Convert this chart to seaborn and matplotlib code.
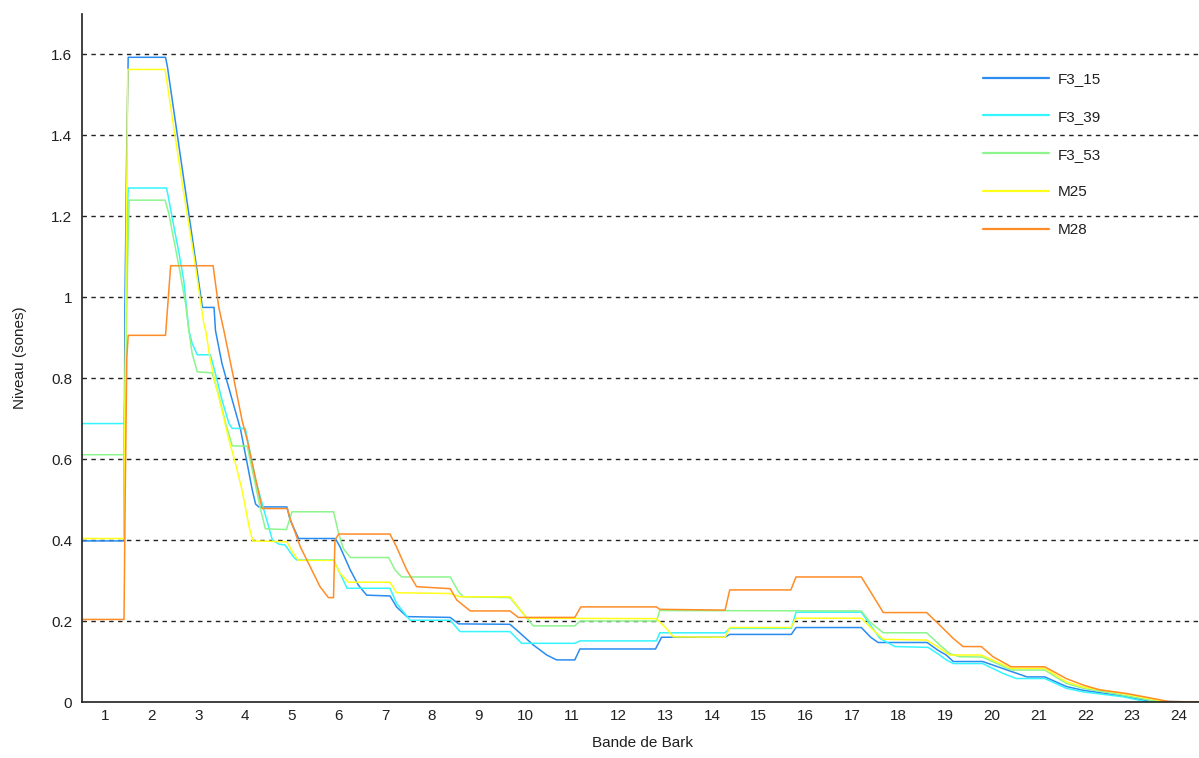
import matplotlib
matplotlib.use("Agg")
import matplotlib.pyplot as plt
import seaborn as sns
import pandas as pd
from matplotlib.lines import Line2D

# ---------------- data (vertices) ----------------
series_names = ["F3_15", "F3_39", "F3_53", "M25", "M28"]

f3_15_x = [0.5, 1.40, 1.42, 1.46, 1.49, 2.29, 2.33, 3.08, 3.11, 3.33, 3.36, 3.5, 3.72, 3.9, 4.04,
           4.15, 4.22, 4.29, 4.89, 4.96, 5.14, 5.93, 6.03, 6.25, 6.42, 6.6, 7.1, 7.24, 7.46, 8.39,
           8.57, 9.67, 9.85, 10.17, 10.46, 10.67, 11.06, 11.17, 12.79, 12.92, 14.28, 14.38, 15.7,
           15.8, 17.2, 17.4, 17.56, 18.61, 18.84, 19.02, 19.17, 19.8, 20.2, 20.75, 21.13, 21.6,
           21.95, 22.8, 23.35, 24.5]
f3_15_y = [0.398, 0.398, 0.98, 1.38, 1.593, 1.593, 1.57, 0.975, 0.975, 0.975, 0.918, 0.836, 0.746,
           0.672, 0.589, 0.523, 0.489, 0.482, 0.482, 0.45, 0.404, 0.404, 0.383, 0.326, 0.289, 0.264,
           0.262, 0.235, 0.211, 0.209, 0.193, 0.192, 0.174, 0.141, 0.116, 0.104, 0.104, 0.131, 0.131,
           0.160, 0.160, 0.167, 0.167, 0.184, 0.184, 0.16, 0.147, 0.147, 0.128, 0.116, 0.1, 0.1,
           0.084, 0.062, 0.062, 0.038, 0.029, 0.015, 0.002, 0.0]

f3_39_x = [0.5, 1.40, 1.43, 1.47, 1.49, 2.31, 2.35, 2.47, 2.58, 2.68, 2.79, 2.86, 2.97, 3.25, 3.36,
           3.5, 3.65, 3.72, 4.0, 4.08, 4.22, 4.4, 4.58, 4.72, 4.85, 5.03, 5.1, 5.89, 6.03, 6.18, 7.1,
           7.24, 7.53, 8.39, 8.6, 9.67, 9.92, 11.06, 11.17, 12.81, 12.88, 14.28, 14.38, 15.7, 15.8,
           17.2, 17.42, 17.6, 17.92, 18.63, 18.88, 19.02, 19.17, 19.8, 20.23, 20.52, 21.13, 21.59,
           21.95, 22.8, 23.3, 24.5]
f3_39_y = [0.688, 0.688, 0.80, 1.20, 1.27, 1.27, 1.248, 1.174, 1.108, 1.042, 0.918, 0.886, 0.858,
           0.858, 0.811, 0.746, 0.688, 0.676, 0.676, 0.63, 0.548, 0.474, 0.40, 0.39, 0.388, 0.359,
           0.351, 0.351, 0.318, 0.281, 0.281, 0.244, 0.202, 0.202, 0.174, 0.174, 0.145, 0.145, 0.151,
           0.151, 0.171, 0.171, 0.182, 0.182, 0.222, 0.222, 0.186, 0.157, 0.137, 0.135, 0.116, 0.104,
           0.095, 0.095, 0.071, 0.058, 0.058, 0.034, 0.025, 0.013, 0.001, 0.0]

f3_53_x = [0.5, 1.40, 1.43, 1.48, 1.51, 2.28, 2.36, 2.47, 2.58, 2.72, 2.79, 2.86, 2.97, 3.29, 3.43,
           3.58, 3.72, 4.04, 4.18, 4.33, 4.43, 4.88, 5.0, 5.89, 6.0, 6.1, 6.25, 7.07, 7.21, 7.35, 8.39,
           8.57, 8.67, 9.67, 10.17, 11.06, 11.17, 12.81, 12.88, 17.2, 17.38, 17.67, 18.6, 18.88, 19.09,
           19.3, 19.8, 20.41, 21.13, 21.59, 21.95, 22.8, 23.37, 23.6, 24.5]
f3_53_y = [0.611, 0.611, 0.80, 1.10, 1.24, 1.24, 1.207, 1.141, 1.075, 0.984, 0.918, 0.861, 0.816,
           0.813, 0.758, 0.688, 0.633, 0.632, 0.556, 0.474, 0.428, 0.426, 0.47, 0.47, 0.416, 0.379,
           0.357, 0.357, 0.326, 0.309, 0.309, 0.272, 0.26, 0.258, 0.188, 0.188, 0.2, 0.2, 0.226, 0.225,
           0.198, 0.171, 0.171, 0.141, 0.12, 0.112, 0.111, 0.079, 0.079, 0.046, 0.034, 0.017, 0.005,
           0.0, 0.0]

m25_x = [0.5, 1.40, 1.44, 1.48, 2.28, 2.40, 2.65, 2.9, 3.11, 3.15, 3.25, 3.36, 3.5, 3.65, 3.79, 3.93,
         4.08, 4.16, 4.89, 5.03, 5.14, 5.89, 6.03, 6.21, 7.1, 7.24, 8.39, 8.6, 9.67, 9.85, 10.03,
         12.81, 13.02, 13.17, 14.28, 14.38, 15.69, 15.8, 17.2, 17.42, 17.67, 18.6, 18.88, 19.09,
         19.77, 20.41, 21.13, 21.59, 21.95, 22.8, 23.45, 23.7, 24.5]
m25_y = [0.404, 0.404, 1.0, 1.563, 1.563, 1.47, 1.28, 1.1, 0.935, 0.918, 0.844, 0.787, 0.721, 0.647,
         0.589, 0.523, 0.433, 0.398, 0.396, 0.367, 0.35, 0.35, 0.318, 0.296, 0.296, 0.27, 0.268,
         0.26, 0.26, 0.234, 0.207, 0.206, 0.182, 0.161, 0.16, 0.184, 0.184, 0.207, 0.207, 0.182,
         0.155, 0.153, 0.133, 0.116, 0.116, 0.083, 0.083, 0.05, 0.037, 0.021, 0.007, 0.0, 0.0]

m28_x = [0.5, 1.40, 1.41, 1.43, 1.46, 1.49, 2.29, 2.35, 2.38, 2.40, 3.31, 3.36, 3.43, 3.54, 3.75,
         3.93, 4.04, 4.15, 4.36, 4.9, 4.96, 5.18, 5.39, 5.6, 5.78, 5.89, 5.92, 6.0, 7.1, 7.24, 7.46,
         7.67, 8.39, 8.53, 8.82, 9.67, 9.85, 11.06, 11.19, 12.81, 12.88, 14.28, 14.38, 15.69, 15.8,
         17.2, 17.42, 17.67, 18.6, 18.88, 19.17, 19.38, 19.77, 20.02, 20.41, 21.13, 21.59, 21.95,
         22.31, 22.88, 23.3, 23.8, 24.5]
m28_y = [0.204, 0.204, 0.32, 0.556, 0.85, 0.906, 0.906, 1.0, 1.047, 1.078, 1.078, 1.034, 0.976,
         0.918, 0.80, 0.696, 0.647, 0.589, 0.478, 0.478, 0.453, 0.383, 0.334, 0.285, 0.258, 0.258,
         0.40, 0.415, 0.415, 0.383, 0.326, 0.285, 0.28, 0.252, 0.225, 0.225, 0.209, 0.209, 0.235,
         0.235, 0.229, 0.227, 0.277, 0.277, 0.309, 0.309, 0.268, 0.221, 0.221, 0.19, 0.157, 0.137,
         0.137, 0.112, 0.087, 0.087, 0.058, 0.042, 0.030, 0.021, 0.012, 0.001, 0.0]

x_ticks = list(range(1, 25))
y_ticks = [0, 0.2, 0.4, 0.6, 0.8, 1.0, 1.2, 1.4, 1.6]
y_tick_labels = ["0", "0.2", "0.4", "0.6", "0.8", "1", "1.2", "1.4", "1.6"]
x_label = "Bande de Bark"
y_label = "Niveau (sones)"

colors = ["#2a8cf0", "#35f5ff", "#8cf58c", "#ffff1a", "#ff8c26"]

# ---------------- build long-form table ----------------
all_x = [f3_15_x, f3_39_x, f3_53_x, m25_x, m28_x]
all_y = [f3_15_y, f3_39_y, f3_53_y, m25_y, m28_y]
frames = []
for name, xs, ys in zip(series_names, all_x, all_y):
    n = min(len(xs), len(ys))
    frames.append(pd.DataFrame({"bark": xs[:n], "sones": ys[:n], "serie": name}))
df = pd.concat(frames, ignore_index=True)

# ---------------- plot ----------------
sns.set_style("white")
plt.rcParams["font.family"] = ["Liberation Sans", "DejaVu Sans"]

W, H = 1199, 758
fig = plt.figure(figsize=(W / 100, H / 100), dpi=100)
left_px, right_px, top_px, bottom_px = 82, 1202, 14, 702
ax = fig.add_axes([left_px / W, 1 - bottom_px / H, (right_px - left_px) / W,
                   (bottom_px - top_px) / H])

# dashed horizontal grid
for yv in y_ticks[1:]:
    ax.axhline(yv, color="#222222", lw=1.0, ls=(0, (3.2, 3.2)), zorder=0.5)

sns.lineplot(data=df, x="bark", y="sones", hue="serie", hue_order=series_names,
             palette=dict(zip(series_names, colors)), sort=False, estimator=None,
             units="serie", linewidth=1.1, ax=ax, legend=False, zorder=2)

ax.set_xlim(0.5, 24.5)
ax.set_ylim(0, 1.7)
ax.set_xticks(x_ticks)
ax.set_xticklabels([str(t) for t in x_ticks])
ax.set_yticks(y_ticks)
ax.set_yticklabels(y_tick_labels)

for side in ["top", "right"]:
    ax.spines[side].set_visible(False)
for side in ["left", "bottom"]:
    ax.spines[side].set_color("#202020")
    ax.spines[side].set_linewidth(1.2)

ax.tick_params(axis="both", direction="in", length=7, width=1.0, color="#202020",
               labelsize=11, labelcolor="#202020")
ax.tick_params(axis="x", pad=5)
ax.tick_params(axis="y", pad=7)

ax.set_xlabel(x_label, fontsize=11, color="#202020")
ax.set_ylabel(y_label, fontsize=11, color="#202020")
ax.xaxis.set_label_coords(0.5, -(736 - bottom_px) / (bottom_px - top_px))
ax.yaxis.set_label_coords(-(left_px - 27) / (right_px - left_px), 0.5)

# legend
handles = [Line2D([], [], color=c, lw=1.6) for c in colors]
leg = ax.legend(handles, series_names, loc="upper left",
                bbox_to_anchor=(983 / W, 1 - 72 / H), bbox_transform=fig.transFigure,
                frameon=False, fontsize=11, handlelength=4.3, handletextpad=0.6,
                labelspacing=1.56, borderpad=0, borderaxespad=0)
for t in leg.get_texts():
    t.set_color("#202020")

fig.savefig("out.png", dpi=100, facecolor="white")
